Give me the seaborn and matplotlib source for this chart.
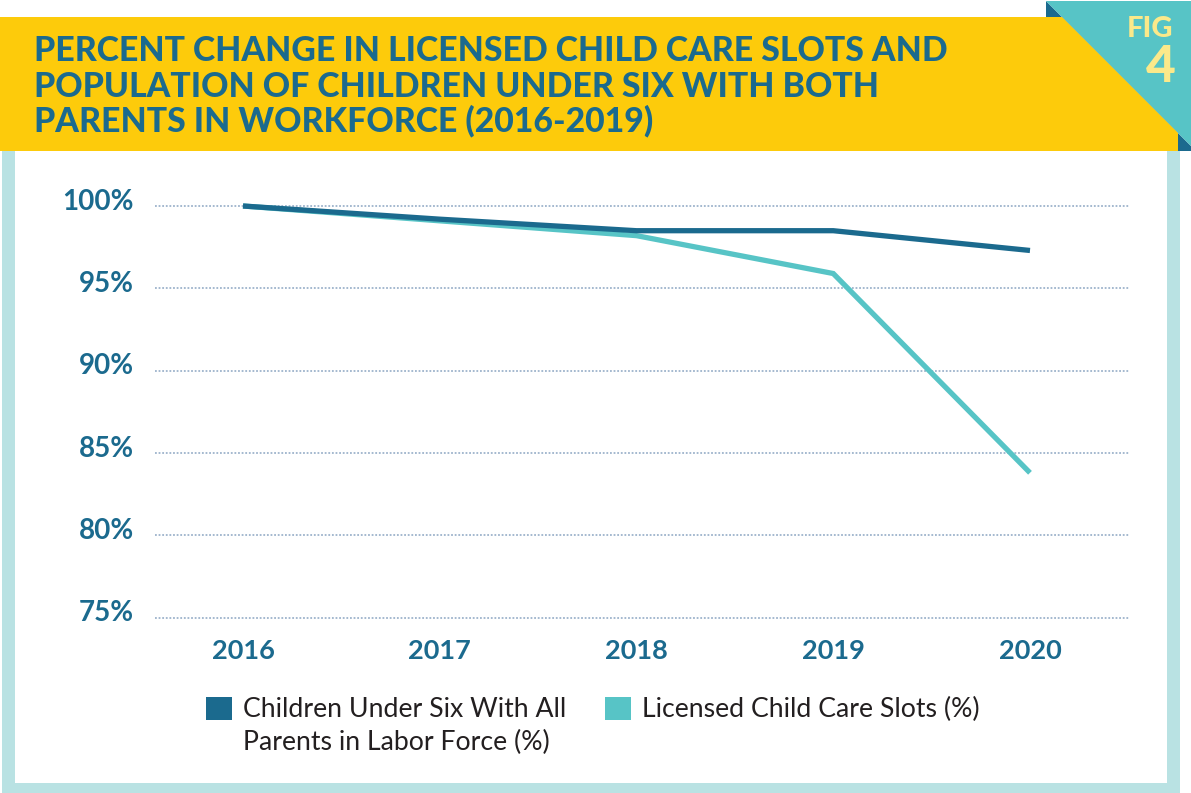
import matplotlib
matplotlib.use("Agg")
import matplotlib.pyplot as plt
from matplotlib.patches import Polygon, Patch, Rectangle
from matplotlib.legend_handler import HandlerPatch
from matplotlib.transforms import ScaledTranslation
import pandas as pd
import seaborn as sns

# values
years = [2016, 2017, 2018, 2019, 2020]
children_pct = [100.0, 99.2, 98.5, 98.5, 97.3]
slots_pct = [100.0, 99.1, 98.2, 95.9, 83.8]
y_ticks = [75, 80, 85, 90, 95, 100]
children_name = "Children Under Six With All\nParents in Labor Force (%)"
slots_name = "Licensed Child Care Slots (%)"
title_lines = ["PERCENT CHANGE IN LICENSED CHILD CARE SLOTS AND",
               "POPULATION OF CHILDREN UNDER SIX WITH BOTH",
               "PARENTS IN WORKFORCE (2016-2019)"]

W, H = 1191, 793
DARK = "#1B6A8E"
TEAL = "#57C4C6"
YELLOW = "#FDCB0B"
BORDER = "#B9E2E3"
PALE = "#FBE98A"
INK = "#231F20"

sns.set_theme(style="white")
plt.rcParams['font.family'] = ['Lato', 'DejaVu Sans']

fig = plt.figure(figsize=(W / 100, H / 100), dpi=100)


def px(x, y):
    # pixel coordinates (from top-left) to figure fraction
    return (x / W, 1 - y / H)


def poly(points, color):
    fig.patches.append(Polygon([px(x, y) for x, y in points], closed=True,
                               transform=fig.transFigure, facecolor=color,
                               edgecolor='none', zorder=-5))


# frame around the chart panel
poly([(2, 151), (15, 151), (15, 793), (2, 793)], BORDER)
poly([(1167, 151), (1180, 151), (1180, 793), (1167, 793)], BORDER)
poly([(2, 783), (1180, 783), (1180, 793), (2, 793)], BORDER)

# header band with the "FIG 4" corner
poly([(1046, 1), (1191, 146), (1191, 151), (1046, 151)], DARK)
poly([(1046, 1), (1191, 1), (1191, 146)], TEAL)
poly([(0, 17), (1062, 17), (1178, 133), (1178, 151), (0, 151)], YELLOW)

for line, base in zip(title_lines, [61, 97, 131]):
    fig.text(*px(34, base), line, fontweight='black', fontsize=24.3, color=DARK,
             va='baseline', ha='left')

fig.text(*px(1150, 37), "FIG", fontsize=21, fontweight='black', color=PALE,
         ha='center', va='baseline')
fig.text(*px(1161, 82), "4", fontsize=37, fontweight='black', color=PALE,
         ha='center', va='baseline')

# plot area
ax = fig.add_axes([155 / W, 1 - 625 / H, (1130 - 155) / W, (625 - 180) / H])
ax.patch.set_alpha(0)

df = pd.DataFrame({
    "year": years + years,
    "pct": slots_pct + children_pct,
    "series": [slots_name] * len(years) + [children_name] * len(years),
})
sns.lineplot(data=df, x="year", y="pct", hue="series",
             hue_order=[slots_name, children_name], palette=[TEAL, DARK],
             linewidth=3.8, legend=False, ax=ax)
for ln in ax.get_lines():
    ln.set_solid_capstyle('butt')
    ln.set_solid_joinstyle('miter')

ax.set_xlim(2016 - 88 / 196.75, 2016 + 887 / 196.75)
ax.set_ylim(100 - 419 / 16.47, 100 + 26 / 16.47)

ax.set_yticks(y_ticks)
ax.set_yticklabels([f"{v}%" for v in y_ticks], fontweight='bold')
ax.set_xticks(years)
ax.set_xticklabels([str(y) for y in years], fontweight='bold')
ax.tick_params(axis='y', length=0, pad=15, labelsize=20, labelcolor=DARK)
ax.tick_params(axis='x', length=0, pad=10, labelsize=19.5, labelcolor=DARK)
lift = ScaledTranslation(0, 7 / 100, fig.dpi_scale_trans)
for lab in ax.get_yticklabels():
    lab.set_transform(lab.get_transform() + lift)

ax.set_xlabel("")
ax.set_ylabel("")
ax.grid(axis='y', linestyle=(0, (1, 1)), color='#9DB3CB', linewidth=1.3)
ax.grid(axis='x', visible=False)
for s in ax.spines.values():
    s.set_visible(False)


def top_square(legend, orig_handle, xdescent, ydescent, width, height, fontsize):
    # square sits beside the first line of a two-line label
    return Rectangle((-xdescent, -ydescent + 13), width, height)


handles = [Patch(facecolor=DARK, edgecolor='none'), Patch(facecolor=TEAL, edgecolor='none')]
leg = ax.legend(handles, [children_name, slots_name + "\n"], loc='upper left',
                bbox_to_anchor=px(206, 697), bbox_transform=fig.transFigure,
                ncol=2, frameon=False, handlelength=0.98, handleheight=0.95,
                handletextpad=0.4, columnspacing=1.45, borderpad=0, borderaxespad=0,
                handler_map={Patch: HandlerPatch(patch_func=top_square)},
                prop=dict(family='Lato', weight='normal', size=19.2), labelcolor=INK)
for t in leg.get_texts():
    t.set_linespacing(1.38)

fig.savefig("out.png", dpi=100, facecolor='white')
